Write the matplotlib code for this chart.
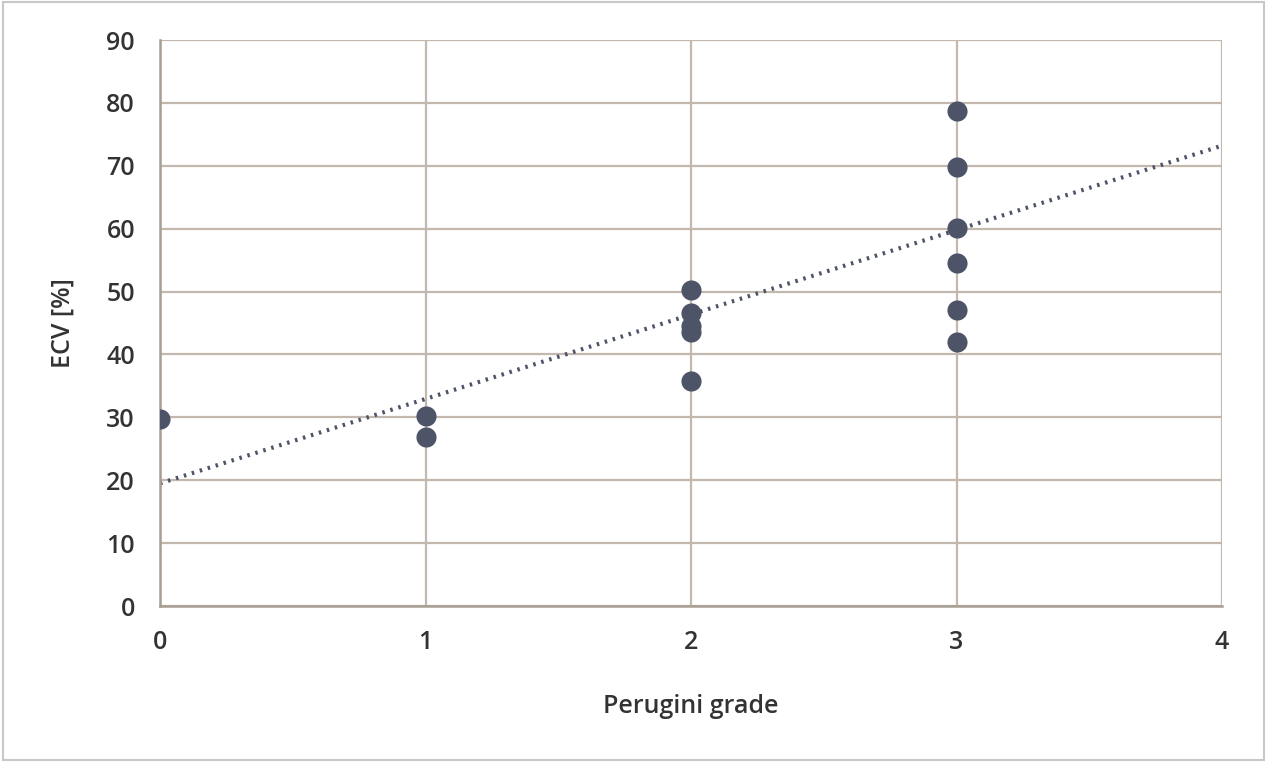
import matplotlib.pyplot as plt
from matplotlib.patches import Rectangle
from matplotlib.ticker import MultipleLocator

plt.rcParams['font.family'] = ['Open Sans', 'DejaVu Sans']

# ECV vs Perugini grade
grade = [0, 1, 1, 2, 2, 2, 2, 2, 3, 3, 3, 3, 3, 3]
ecv = [29.8, 30.2, 26.8, 50.3, 46.6, 44.6, 43.6, 35.7, 78.7, 69.8, 60.1, 54.6, 47.1, 42.0]

# linear trendline end points
trend_x = [0, 4]
trend_y = [19.5, 73.2]

text_color = '#333333'
grid_color = '#C2B8AE'
dot_color = '#4E5468'

fig = plt.figure(figsize=(12.67, 7.62), dpi=100)
ax = fig.add_axes([0.1263, 0.2047, 0.8382, 0.7428])

# outer chart border
fig.patches.append(Rectangle((0.002, 0.003), 0.996, 0.994, transform=fig.transFigure,
                             fill=False, edgecolor='#C8C8C8', linewidth=1.5))

ax.plot(trend_x, trend_y, linestyle=(0, (0.6, 1.4)), color=dot_color, linewidth=3.0, zorder=2)
ax.scatter(grade, ecv, s=210, color=dot_color, zorder=3, linewidths=0)

ax.set_xlim(0, 4)
ax.set_ylim(0, 90)
ax.xaxis.set_major_locator(MultipleLocator(1))
ax.yaxis.set_major_locator(MultipleLocator(10))

ax.grid(color=grid_color, linewidth=1.6)
ax.set_axisbelow(True)
for side in ['top', 'right']:
    ax.spines[side].set_visible(False)
for side in ['left', 'bottom']:
    ax.spines[side].set_color('#A89E94')
    ax.spines[side].set_linewidth(1.8)

ax.tick_params(length=0, labelsize=18, labelcolor=text_color)
ax.tick_params(axis='y', pad=18)
ax.tick_params(axis='x', pad=17)
for lab in ax.get_xticklabels() + ax.get_yticklabels():
    lab.set_clip_on(False)
    lab.set_fontweight('semibold')

ax.set_xlabel('Perugini grade', fontsize=18, color=text_color, labelpad=28,
              fontweight='semibold')
ax.set_ylabel('ECV [%]', fontsize=18, color=text_color, labelpad=22,
              fontweight='semibold')

fig.savefig('out.png', dpi=100)
